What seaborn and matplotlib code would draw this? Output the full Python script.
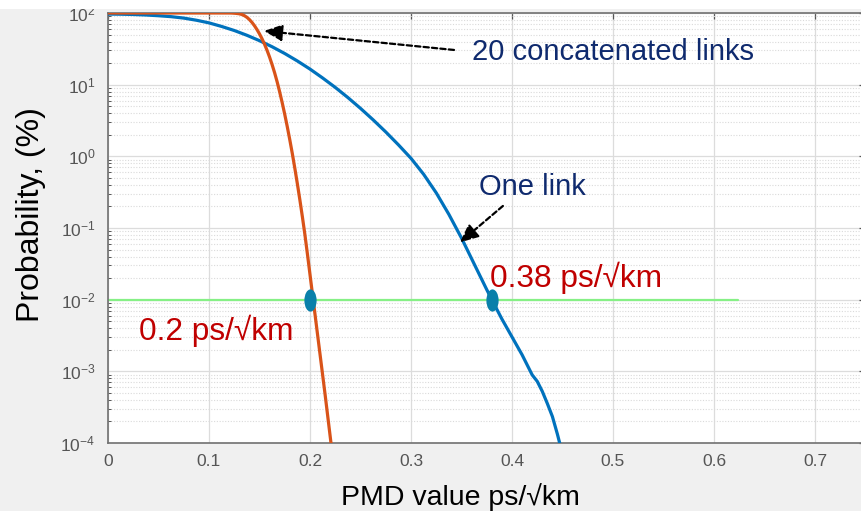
import matplotlib
matplotlib.use("Agg")
import matplotlib.pyplot as plt
import seaborn as sns
from matplotlib.path import Path
from matplotlib.transforms import Affine2D
from matplotlib.patches import Rectangle
from matplotlib.ticker import FixedLocator, LogLocator, NullFormatter

# ---------------- data ----------------
pmd_one_link = [0.0, 0.0125, 0.025, 0.0375, 0.05, 0.0625, 0.075, 0.0875, 0.10,
                0.1125, 0.125, 0.1375, 0.15, 0.1625, 0.175, 0.1875, 0.20, 0.2125,
                0.225, 0.2375, 0.25, 0.2625, 0.275, 0.2875, 0.30, 0.3125, 0.325,
                0.3375, 0.35, 0.3625, 0.375, 0.38, 0.39, 0.40, 0.41, 0.42, 0.425,
                0.43, 0.435, 0.44, 0.445, 0.449]
prob_one_link = [96.6, 96.2, 95.3, 93.8, 91.6, 88.9, 84.9, 79.3, 72.8,
                 64.9, 57.0, 48.9, 41.1, 33.8, 27.2, 21.4, 16.5, 12.4,
                 9.16, 6.61, 4.67, 3.23, 2.19, 1.45, 0.938, 0.562, 0.309,
                 0.155, 0.0724, 0.0316, 0.0138, 0.0100, 0.00537, 0.00302, 0.00170, 0.000891,
                 0.000724, 0.000525, 0.000355, 0.000234, 0.000132, 0.0000794]

pmd_twenty_links = [0.0, 0.06, 0.115, 0.12, 0.1225, 0.125, 0.1275, 0.13, 0.1325,
                    0.135, 0.1375, 0.14, 0.1425, 0.145, 0.1475, 0.15, 0.1525, 0.155,
                    0.1575, 0.16, 0.1625, 0.165, 0.1675, 0.17, 0.1725, 0.175, 0.1775,
                    0.18, 0.1825, 0.185, 0.1875, 0.19, 0.1925, 0.195, 0.1975, 0.20,
                    0.205, 0.21, 0.215, 0.22, 0.2225]
prob_twenty_links = [100, 100, 100, 100, 99.8, 99.3, 98.6, 97.5, 95.3,
                     91.8, 87.1, 81.1, 74.1, 66.5, 58.7, 51.1, 43.7, 36.6,
                     30.1, 24.2, 19.0, 14.6, 10.9, 7.89, 5.58, 3.85, 2.59,
                     1.70, 1.09, 0.679, 0.413, 0.245, 0.142, 0.080, 0.0427, 0.0224,
                     0.00617, 0.00170, 0.000468, 0.000123, 0.0000631]

threshold_pmd = [0.0, 0.624]
threshold_prob = [0.01, 0.01]

marker_pmd = [0.2, 0.38]
marker_prob = [0.01, 0.01]

x_ticks = [0, 0.1, 0.2, 0.3, 0.4, 0.5, 0.6, 0.7]
x_tick_labels = ["0", "0.1", "0.2", "0.3", "0.4", "0.5", "0.6", "0.7"]
y_ticks = [1e-4, 1e-3, 1e-2, 1e-1, 1e0, 1e1, 1e2]
y_tick_labels = ["$10^{-4}$", "$10^{-3}$", "$10^{-2}$", "$10^{-1}$",
                 "$10^{0}$", "$10^{1}$", "$10^{2}$"]

x_label = "PMD value ps/\u221akm"
y_label = "Probability, (%)"
label_twenty = "20 concatenated links"
label_one = "One link"
label_020 = "0.2 ps/\u221akm"
label_038 = "0.38 ps/\u221akm"

# ---------------- style ----------------
sns.set_theme(style="white")
plt.rcParams["font.family"] = ["Liberation Sans", "DejaVu Sans"]
plt.rcParams["mathtext.fontset"] = "custom"
plt.rcParams["mathtext.rm"] = "Liberation Sans"
plt.rcParams["mathtext.it"] = "Liberation Sans:italic"
plt.rcParams["mathtext.bf"] = "Liberation Sans:bold"

W, H = 862, 511
fig = plt.figure(figsize=(W / 100, H / 100), dpi=100, facecolor="#f0f0f0")
fig.patches.append(Rectangle((0, 1 - 9 / H), 1, 9 / H, transform=fig.transFigure,
                             facecolor="white", edgecolor="none", zorder=0))

ax = fig.add_axes([108 / W, 68 / H, 757.5 / W, 430 / H])
ax.set_facecolor("white")

blue = "#0072BD"
orange = "#D95319"

sns.lineplot(x=threshold_pmd, y=threshold_prob, ax=ax, color="#86f086",
             linewidth=1.6, zorder=2)
sns.lineplot(x=pmd_one_link, y=prob_one_link, ax=ax, color=blue,
             linewidth=2.3, sort=False, zorder=3,
             solid_joinstyle="round", solid_capstyle="round")
sns.lineplot(x=pmd_twenty_links, y=prob_twenty_links, ax=ax, color=orange,
             linewidth=2.3, sort=False, zorder=3,
             solid_joinstyle="round", solid_capstyle="round")

ellipse = Path.unit_circle().transformed(Affine2D().scale(0.55, 1.0))
ax.plot(marker_pmd, marker_prob, linestyle="none", marker=ellipse,
        markersize=16, color="#0a80aa", markeredgewidth=0, zorder=5)

ax.set_yscale("log")
ax.set_xlim(0, 0.75)
ax.set_ylim(1e-4, 1e2)

ax.xaxis.set_major_locator(FixedLocator(x_ticks))
ax.set_xticklabels(x_tick_labels)
ax.yaxis.set_major_locator(FixedLocator(y_ticks))
ax.set_yticklabels(y_tick_labels)
ax.yaxis.set_minor_locator(LogLocator(base=10, subs=range(2, 10), numticks=20))
ax.yaxis.set_minor_formatter(NullFormatter())

tick_col = "#555555"
ax.tick_params(axis="both", which="major", direction="in", length=4.5, width=0.9,
               color="#555555", labelcolor=tick_col, labelsize=12.5,
               top=True, right=True)
ax.tick_params(axis="x", which="major", pad=8)
ax.tick_params(axis="y", which="major", pad=9)
ax.tick_params(axis="y", which="minor", direction="in", length=2.5, width=0.7,
               color="#555555", left=True, right=True)

ax.grid(True, which="major", color="#dcdcdc", linewidth=0.9, linestyle="-")
ax.grid(True, which="minor", axis="y", color="#dadada", linewidth=0.8,
        linestyle=(0, (1, 1.5)))
ax.set_axisbelow(True)

for s in ax.spines.values():
    s.set_color("#707070")
    s.set_linewidth(1.2)

ax.set_xlabel("")
ax.set_ylabel("")

fig.text(460 / W, 1 - 505 / H, x_label, ha="center", va="baseline",
         fontsize=20.5, color="black")
fig.text(31 / W, 1 - 215 / H, y_label, ha="center", va="center", rotation=90,
         fontsize=23, color="black")

navy = "#0f2a6e"
red = "#c00000"
ax.text(0.3604, 22.1, label_twenty, ha="left", va="baseline", fontsize=21, color=navy)
ax.text(0.3673, 0.289, label_one, ha="left", va="baseline", fontsize=21, color=navy)
ax.text(0.378, 0.0150, label_038, ha="left", va="baseline", fontsize=22.8, color=red)
ax.text(0.0307, 0.00273, label_020, ha="left", va="baseline", fontsize=22.8, color=red)

arrow_props = dict(arrowstyle="-|>,head_length=0.55,head_width=0.25",
                   linestyle=(0, (2.4, 1.4)), color="black", lw=1.6,
                   mutation_scale=20, shrinkA=0, shrinkB=0)
ax.annotate("", xy=(0.1545, 56.1), xytext=(0.3426, 30.5), arrowprops=arrow_props,
            zorder=6)
ax.annotate("", xy=(0.3485, 0.063), xytext=(0.391, 0.203), arrowprops=arrow_props,
            zorder=6)

fig.savefig("out.png", dpi=100, facecolor=fig.get_facecolor())
